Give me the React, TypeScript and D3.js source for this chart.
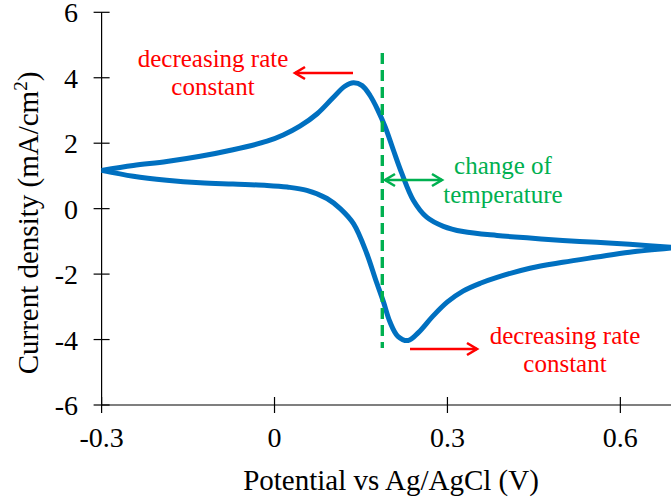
import React from 'react';
import * as d3 from 'd3';

const xTicks = [-0.3, 0, 0.3, 0.6];
const yTicks = [-6, -4, -2, 0, 2, 4, 6];

// Forward (upper) branch of the voltammogram
const forwardPotential = [-0.3, -0.245, -0.187, -0.129, -0.072, -0.013, 0.015, 0.044, 0.074, 0.101, 0.122, 0.137, 0.152, 0.166, 0.179, 0.192, 0.206, 0.221, 0.241, 0.264, 0.293, 0.327, 0.386, 0.443, 0.5, 0.559, 0.616, 0.695];
const forwardCurrent = [1.17, 1.32, 1.44, 1.6, 1.8, 2.06, 2.25, 2.52, 2.9, 3.38, 3.74, 3.85, 3.76, 3.45, 3.02, 2.5, 1.8, 1.07, 0.25, -0.26, -0.54, -0.7, -0.82, -0.9, -0.97, -1.03, -1.09, -1.19];

// Reverse (lower) branch
const reversePotential = [0.695, 0.616, 0.559, 0.5, 0.443, 0.386, 0.357, 0.327, 0.3, 0.274, 0.25, 0.232, 0.214, 0.2, 0.189, 0.175, 0.16, 0.137, 0.114, 0.091, 0.056, 0.022, -0.013, -0.072, -0.129, -0.187, -0.245, -0.3];
const reverseCurrent = [-1.19, -1.33, -1.48, -1.64, -1.82, -2.1, -2.28, -2.52, -2.85, -3.3, -3.78, -4.03, -3.9, -3.45, -2.85, -2.15, -1.37, -0.46, 0.0, 0.31, 0.56, 0.66, 0.71, 0.75, 0.79, 0.87, 0.99, 1.17];

const markerPotential = 0.187;

const FONT = '"Liberation Serif", "Times New Roman", serif';
const RED = '#FF0000';
const GREEN = '#00B050';
const BLUE = '#0070C0';

function Arrow({ x1, x2, yy, color, both }: { x1: number; x2: number; yy: number; color: string; both?: boolean }) {
  const hl = 10, hw = 6;
  const dir = Math.sign(x2 - x1);
  return (
    <g stroke={color} strokeWidth={2.6} fill="none" strokeLinecap="butt">
      <line x1={x1} y1={yy} x2={x2} y2={yy} />
      <polyline points={`${x2 - dir * hl},${yy - hw} ${x2},${yy} ${x2 - dir * hl},${yy + hw}`} />
      {both && <polyline points={`${x1 + dir * hl},${yy - hw} ${x1},${yy} ${x1 + dir * hl},${yy + hw}`} />}
    </g>
  );
}

export default function App() {
  const W = 671, H = 501;
  const x = d3.scaleLinear().domain([-0.3, 0.7]).range([101.6, 678]);
  const y = d3.scaleLinear().domain([-6, 6]).range([405, 12.3]);
  const line = d3.line<[number, number]>().x(d => x(d[0])).y(d => y(d[1])).curve(d3.curveCatmullRom.alpha(0.5));
  const fwd = forwardPotential.map((p, i) => [p, forwardCurrent[i]] as [number, number]);
  const rev = reversePotential.map((p, i) => [p, reverseCurrent[i]] as [number, number]);
  const x0 = x(-0.3);
  const yBase = y(-6);
  return (
    <svg width={W} height={H} style={{ position: 'absolute', left: 0, top: 0, background: '#fff' }} fontFamily={FONT}>
      <rect width={W} height={H} fill="#fff" />
      {/* axes */}
      <line x1={x0} y1={y(6)} x2={x0} y2={yBase} stroke="#000" strokeWidth={1.2} />
      <line x1={x0} y1={yBase} x2={W} y2={yBase} stroke="#000" strokeWidth={1.2} />
      {yTicks.map(t => (
        <g key={'y' + t}>
          <line x1={x0 - 8} x2={x0 + 8} y1={y(t)} y2={y(t)} stroke="#000" strokeWidth={1.2} />
          <text x={78} y={y(t) + 10} textAnchor="end" fontSize={28} fill="#000">{t}</text>
        </g>
      ))}
      {xTicks.map(t => (
        <g key={'x' + t}>
          <line x1={x(t)} x2={x(t)} y1={yBase - 8} y2={yBase + 8} stroke="#000" strokeWidth={1.2} />
          <text x={x(t)} y={447} textAnchor="middle" fontSize={28} fill="#000">{t}</text>
        </g>
      ))}
      <text x={391} y={490} textAnchor="middle" fontSize={29} fill="#000">Potential vs Ag/AgCl (V)</text>
      <text transform={`translate(38,223) rotate(-90)`} textAnchor="middle" fontSize={29} fill="#000">
        Current density (mA/cm<tspan dy={-11} fontSize={19}>2</tspan><tspan dy={11}>)</tspan>
      </text>
      {/* curve */}
      <path d={line(fwd) || ''} fill="none" stroke={BLUE} strokeWidth={5} />
      <path d={line(rev) || ''} fill="none" stroke={BLUE} strokeWidth={5} />
      {/* dashed marker */}
      <line x1={x(markerPotential)} x2={x(markerPotential)} y1={53} y2={348} stroke={GREEN} strokeWidth={3.4} strokeDasharray="11,6" />
      {/* annotations */}
      <Arrow x1={353} x2={295} yy={73} color={RED} />
      <text x={213} y={67} textAnchor="middle" fontSize={25} fill={RED}>decreasing rate</text>
      <text x={213} y={95} textAnchor="middle" fontSize={25} fill={RED}>constant</text>
      <Arrow x1={385} x2={442} yy={180} color={GREEN} both />
      <text x={503} y={174} textAnchor="middle" fontSize={25} fill={GREEN}>change of</text>
      <text x={503} y={203} textAnchor="middle" fontSize={25} fill={GREEN}>temperature</text>
      <Arrow x1={410} x2={477} yy={349} color={RED} />
      <text x={565} y={344} textAnchor="middle" fontSize={25} fill={RED}>decreasing rate</text>
      <text x={565} y={372} textAnchor="middle" fontSize={25} fill={RED}>constant</text>
    </svg>
  );
}
